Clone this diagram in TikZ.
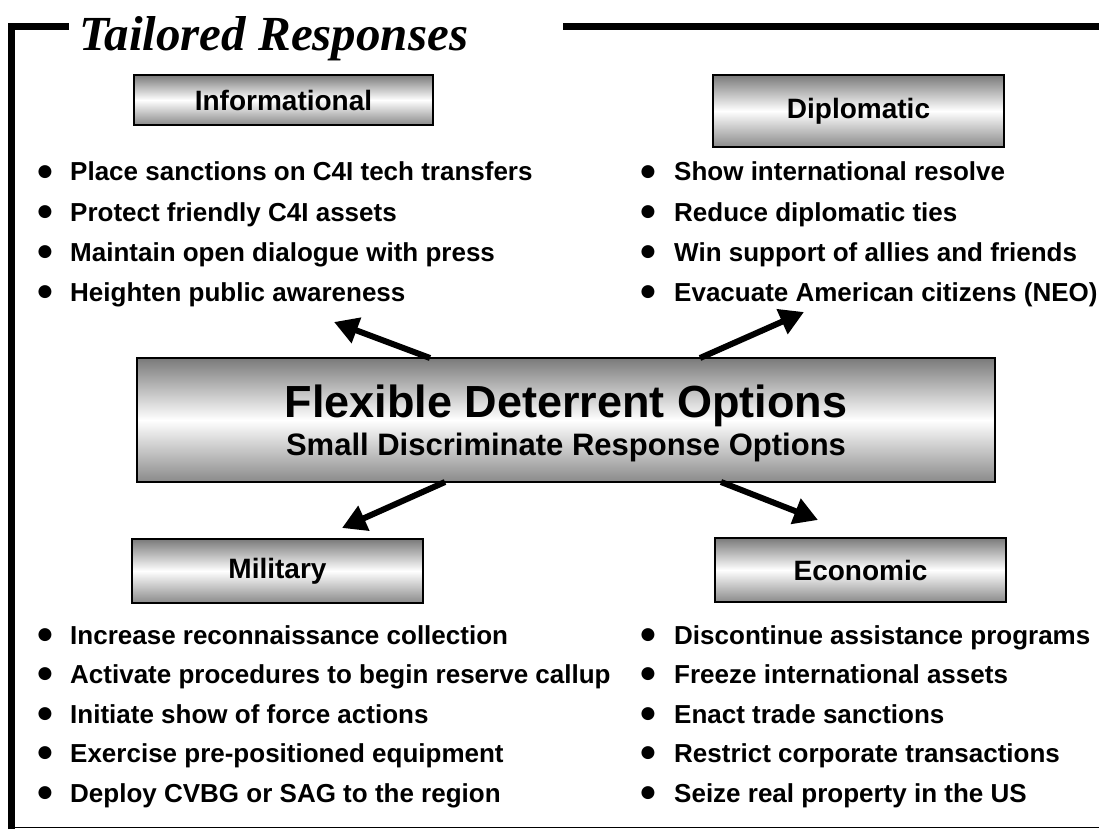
\documentclass[tikz,border=0pt]{standalone}
\usepackage{fontspec}
\setmainfont{Liberation Sans}
\newfontfamily\titlefont{Liberation Serif}
\newfontfamily\symfont{DejaVu Sans}
\usetikzlibrary{arrows.meta}
\definecolor{boxtop}{HTML}{7A7A7A}
\definecolor{boxbot}{HTML}{8A8A8A}
\tikzset{
  catbox/.style={rectangle, draw=black, line width=1.3pt, top color=boxtop, bottom color=boxbot, middle color=white,
    inner sep=0pt, font=\bfseries\fontsize{28}{32}\selectfont},
  item/.style={anchor=base west, inner sep=0pt, font=\bfseries\fontsize{26}{30}\selectfont},
  dot/.style={anchor=center, inner sep=0pt, font=\symfont\fontsize{17}{17}\selectfont},
  fatarrow/.style={line width=6pt, -{Triangle[length=24pt,width=26pt]}},
  framebar/.style={line width=7pt, line join=miter},
}
\begin{document}
\begin{tikzpicture}[x=1pt,y=-1pt]
\useasboundingbox (0,0) rectangle (1099,829);
% frame
\draw[framebar] (11.5,829) -- (11.5,26.5) -- (69,26.5);
\draw[framebar] (563,26.5) -- (1099,26.5);
\draw[line width=1.5pt] (8,827.5) -- (1099,827.5);
% title
\node[anchor=base west, inner sep=0pt, font=\titlefont\bfseries\itshape\fontsize{49}{59}\selectfont] (title) at (79,51) {Tailored Responses};
% category boxes
\node[catbox, minimum width=299pt, minimum height=50pt] (info) at (283.5,100) {Informational};
\node[catbox, minimum width=291pt, minimum height=72pt] (dipl) at (858.5,111) {Diplomatic};
\node[catbox, minimum width=291pt, minimum height=64pt] (mil) at (277.5,571) {Military};
\node[catbox, minimum width=291pt, minimum height=64pt] (econ) at (860.5,570) {Economic};
% central box
\node[catbox, minimum width=858pt, minimum height=124pt] (fdo) at (566,420) {};
\node[inner sep=0pt, anchor=base, font=\bfseries\fontsize{45}{48}\selectfont] (fdoA) at (566,417) {Flexible Deterrent Options};
\node[inner sep=0pt, anchor=base, font=\bfseries\fontsize{31}{34}\selectfont] (fdoB) at (566,455) {Small Discriminate Response Options};
% arrows
\coordinate (tUL) at (430,358);
\coordinate (hUL) at (334,322);
\coordinate (tUR) at (700,358);
\coordinate (hUR) at (804,312);
\coordinate (tLL) at (445,482);
\coordinate (hLL) at (342,528);
\coordinate (tLR) at (721,482);
\coordinate (hLR) at (818,520);
\draw[fatarrow] (tUL) -- (hUL);
\draw[fatarrow] (tUR) -- (hUR);
\draw[fatarrow] (tLL) -- (hLL);
\draw[fatarrow] (tLR) -- (hLR);
% informational items
\foreach \t [count=\i] in {Place sanctions on C4I tech transfers, Protect friendly C4I assets, Maintain open dialogue with press, Heighten public awareness}{
  \node[dot] (il\i) at (45,{181+40*(\i-1)-9}) {●};
  \node[item] (it\i) at (70,{181+40*(\i-1)}) {\t};
}
% diplomatic items
\foreach \t [count=\i] in {Show international resolve, Reduce diplomatic ties, Win support of allies and friends, Evacuate American citizens (NEO)}{
  \node[dot] (dl\i) at (648,{181+40*(\i-1)-9}) {●};
  \node[item] (dt\i) at (674,{181+40*(\i-1)}) {\t};
}
% military items
\foreach \t [count=\i] in {Increase reconnaissance collection, Activate procedures to begin reserve callup, Initiate show of force actions, Exercise pre-positioned equipment, Deploy CVBG or SAG to the region}{
  \node[dot] (ml\i) at (45,{644+39.5*(\i-1)-9}) {●};
  \node[item] (mt\i) at (70,{644+39.5*(\i-1)}) {\t};
}
% economic items
\foreach \t [count=\i] in {Discontinue assistance programs, Freeze international assets, Enact trade sanctions, Restrict corporate transactions, Seize real property in the US}{
  \node[dot] (el\i) at (648,{644+39.5*(\i-1)-9}) {●};
  \node[item] (et\i) at (674,{644+39.5*(\i-1)}) {\t};
}
\end{tikzpicture}
\end{document}
